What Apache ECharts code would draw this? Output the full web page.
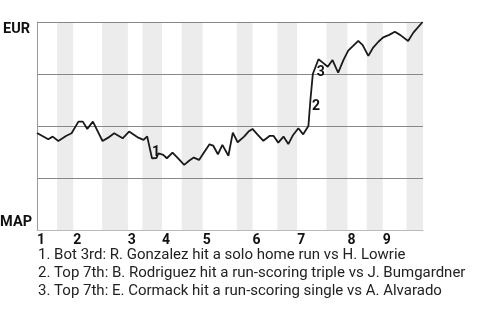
<!DOCTYPE html>
<html>
<head>
<meta charset="utf-8">
<script src="https://cdn.jsdelivr.net/npm/echarts@6/dist/echarts.min.js"></script>
<style>html,body{margin:0;padding:0;background:#fff}#c{width:480px;height:320px}</style>
</head>
<body>
<div id="c"></div>
<script>
// play index (x) and EUR win probability (y, %)
const playX = [0, 2.8, 3.9, 5.3, 7.2, 8.6, 10.3, 11.4, 12.5, 13.9, 16.3, 17.7, 19.2, 21.3, 22.9, 25.2, 26.5, 27.4, 28.6, 29.7, 30.2, 31.4, 32.3, 33.7, 35.1, 36.6, 37.9, 39.0, 40.3, 41.4, 42.9, 43.8, 45.0, 46.1, 47.6, 48.7, 49.9, 51.5, 52.6, 53.6, 54.8, 56.3, 57.9, 58.8, 60.0, 61.3, 62.5, 63.7, 65.0, 66.2, 67.5, 68.0, 68.6, 70.0, 71.0, 72.3, 73.5, 74.9, 76.2, 77.4, 79.9, 81.0, 82.4, 83.5, 84.9, 86.1, 87.6, 89.0, 90.3, 92.3, 93.6, 95.9];
const winProb = [46.6, 43.6, 44.9, 42.8, 45.2, 46.5, 52.1, 52.1, 48.6, 52.1, 42.8, 44.4, 46.5, 44.1, 47.3, 44.4, 43.3, 45.0, 34.5, 34.6, 36.9, 36.1, 34.5, 37.2, 34.4, 31.3, 33.4, 34.8, 33.7, 36.9, 41.2, 40.6, 36.4, 40.9, 35.7, 46.8, 42.2, 44.9, 47.3, 48.6, 46.0, 42.9, 45.3, 45.3, 42.0, 44.9, 41.3, 45.7, 48.9, 46.0, 50.0, 62.5, 75.0, 82.1, 80.6, 78.5, 81.7, 75.6, 81.7, 86.2, 90.9, 88.9, 83.7, 87.4, 90.5, 92.6, 93.8, 95.3, 93.8, 90.9, 94.9, 100];
const maxPlay = 96;
// half-inning boundaries (play index)
const halfInningStarts = [0, 5.0, 9.0, 16.2, 22.6, 26.2, 31.1, 36.0, 41.2, 49.7, 53.6, 59.8, 64.7, 72.0, 77.2, 82.0, 86.0, 91.9, 96];
const inningLabels = ['1', '2', '3', '4', '5', '6', '7', '8', '9'];
const teamTop = 'EUR';
const teamBottom = 'MAP';
const annoLabels = ['1', '2', '3'];
const annoX = [29.6, 69.4, 70.6];
const annoY = [37.2, 59.3, 75.8];
const notes = [
  '1. Bot 3rd: R. Gonzalez hit a solo home run vs H. Lowrie',
  '2. Top 7th: B. Rodriguez hit a run-scoring triple vs J. Bumgardner',
  '3. Top 7th: E. Cormack hit a run-scoring single vs A. Alvarado'
];

const inningStarts = inningLabels.map((_, i) => halfInningStarts[i * 2]);
const bands = [];
for (let i = 1; i + 1 < halfInningStarts.length; i += 2) {
  bands.push([{ xAxis: halfInningStarts[i] }, { xAxis: halfInningStarts[i + 1] }]);
}
const lineData = playX.map((x, i) => [x, winProb[i]]);
const font = 'Roboto, "Liberation Sans", Arial, sans-serif';

const chart = echarts.init(document.getElementById('c'), null, { renderer: 'canvas' });
chart.setOption({
  animation: false,
  textStyle: { fontFamily: font },
  title: {
    text: notes.join('\n'),
    left: 38, top: 246, padding: 0,
    textStyle: { fontFamily: font, fontSize: 15, fontWeight: 'normal', color: '#222', lineHeight: 18 }
  },
  grid: { left: 37, right: 57, top: 22, bottom: 90, containLabel: false, outerBoundsMode: 'none' },
  xAxis: {
    type: 'value', min: 0, max: maxPlay,
    axisLine: { show: true, lineStyle: { color: '#bbb', width: 1 } },
    axisTick: { show: false },
    splitLine: { show: false },
    z: 3,
    axisLabel: {
      customValues: inningStarts,
      formatter: (v) => { const i = inningStarts.indexOf(v); return i >= 0 ? inningLabels[i] : ''; },
      align: 'left', margin: 3,
      fontFamily: font, fontSize: 14, fontWeight: 'bold', color: '#111'
    }
  },
  yAxis: [{
    type: 'value', min: 0, max: 100, interval: 25, position: 'left',
    z: 3,
    axisLine: { show: true, lineStyle: { color: '#999' } },
    axisTick: { show: false },
    splitLine: { show: true, lineStyle: { color: ['#bbb', '#888', '#888', '#888', '#888'], width: 1 } },
    axisLabel: {
      customValues: [100], formatter: () => teamTop,
      verticalAlign: 'top', margin: 7,
      fontFamily: font, fontSize: 14.5, fontWeight: 'bold', color: '#111'
    }
  }, {
    type: 'value', min: 0, max: 100, interval: 25, position: 'left', offset: 0,
    axisLine: { show: false }, axisTick: { show: false }, splitLine: { show: false },
    axisLabel: {
      customValues: [0], formatter: () => teamBottom,
      verticalAlign: 'bottom', margin: 5,
      fontFamily: font, fontSize: 14.5, fontWeight: 'bold', color: '#111'
    }
  }],
  series: [{
    type: 'line', z: 1, data: lineData, showSymbol: false, silent: true,
    lineStyle: { opacity: 0 },
    markArea: { silent: true, itemStyle: { color: '#ececec' }, data: bands }
  }, {
    type: 'line', z: 4, data: lineData, showSymbol: false,
    lineStyle: { color: '#1a1a1a', width: 1.8 },
    markPoint: {
      symbol: 'rect', symbolSize: 1, itemStyle: { color: 'rgba(0,0,0,0)' },
      label: { show: true, position: 'inside', color: '#111', fontFamily: font, fontSize: 14, fontWeight: 'bold',
        formatter: (p) => p.name },
      data: annoLabels.map((t, i) => ({ name: t, coord: [annoX[i], annoY[i]] }))
    }
  }]
});
</script>
</body>
</html>
